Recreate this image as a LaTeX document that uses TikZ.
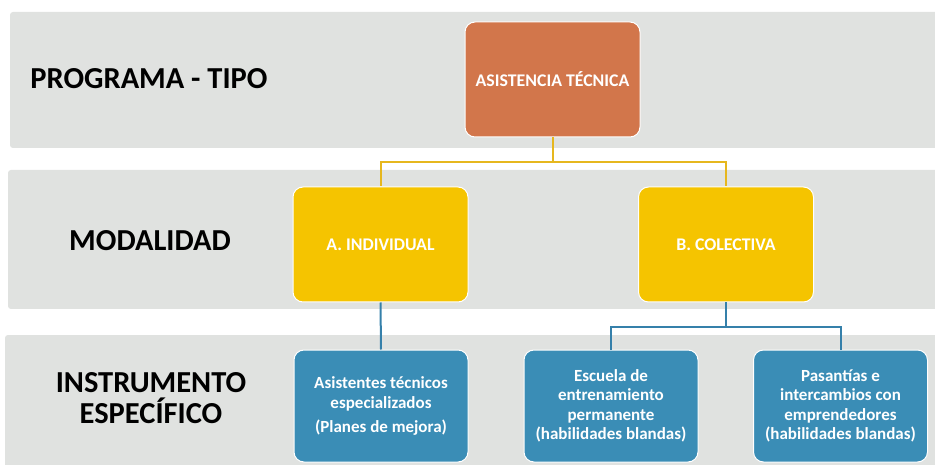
\documentclass[tikz,border=0pt]{standalone}
\usepackage{fontspec}
\setmainfont{Carlito}
\usetikzlibrary{positioning}

\definecolor{bandgray}{HTML}{E0E2E0}
\definecolor{tipoorange}{HTML}{D2764B}
\definecolor{modyellow}{HTML}{F5C400}
\definecolor{instblue}{HTML}{3A8DB6}
\definecolor{lineyellow}{HTML}{E6B71E}
\definecolor{lineblue}{HTML}{3580AA}

\begin{document}
\begin{tikzpicture}[x=1pt,y=-1pt]
	\tikzset{
		band/.style={fill=bandgray, draw=none, rounded corners=3pt},
		rowlabel/.style={text=black, align=center, font=\fontsize{30.5}{31}\selectfont\bfseries},
		boxnode/.style={rectangle, rounded corners=10pt, draw=white, line width=1pt, text=white, align=center, inner sep=2pt},
		tiponode/.style={boxnode, fill=tipoorange, minimum width=175, minimum height=115, font=\fontsize{17.8}{20}\selectfont\bfseries},
		modnode/.style={boxnode, fill=modyellow, minimum width=175, minimum height=115, font=\fontsize{17.8}{20}\selectfont\bfseries},
		instnode/.style={boxnode, fill=instblue, minimum width=174, minimum height=112, font=\fontsize{17}{19.5}\selectfont\bfseries},
		linkyellow/.style={lineyellow, line width=2pt},
		linkblue/.style={lineblue, line width=2pt},
	}
	% page and bands
	\fill[white] (0,0) rectangle (935,465);
	\useasboundingbox (0,0) rectangle (935,465);
	\fill[band] (10,12) rectangle (940,148);
	\fill[band] (8,170) rectangle (940,309);
	\fill[band] (5,335) rectangle (940,470);

	% row labels
	\node[rowlabel] (lbltipo) at (149,79) {PROGRAMA - TIPO};
	\node[rowlabel] (lblmod) at (150,241) {MODALIDAD};
	\node[rowlabel] (lblinst) at (151,398) {INSTRUMENTO\\ESPECÍFICO};

	% boxes
	\node[tiponode] (tipo) at (552.5,79.5) {ASISTENCIA TÉCNICA};
	\node[modnode] (indiv) at (380.5,244.5) {A. INDIVIDUAL};
	\node[modnode] (colect) at (726,244.5) {B. COLECTIVA};
	\node[instnode] (asist) at (381,406) {Asistentes técnicos\\especializados\\[5pt](Planes de mejora)};
	\node[instnode] (escuela) at (611,406) {Escuela de\\entrenamiento\\permanente\\(habilidades blandas)};
	\node[instnode] (pasant) at (840.5,406) {Pasantías e\\intercambios con\\emprendedores\\(habilidades blandas)};

	% connectors
	\draw[linkyellow] (tipo.south) -- ++(0,25) coordinate (tipobus) -| (indiv.north);
	\draw[linkyellow] (tipobus) -| (colect.north);
	\draw[linkblue] (indiv.south) -- (asist.north);
	\draw[linkblue] (colect.south) -- ++(0,24) coordinate (colbus) -| (escuela.north);
	\draw[linkblue] (colbus) -| (pasant.north);
\end{tikzpicture}
\end{document}
